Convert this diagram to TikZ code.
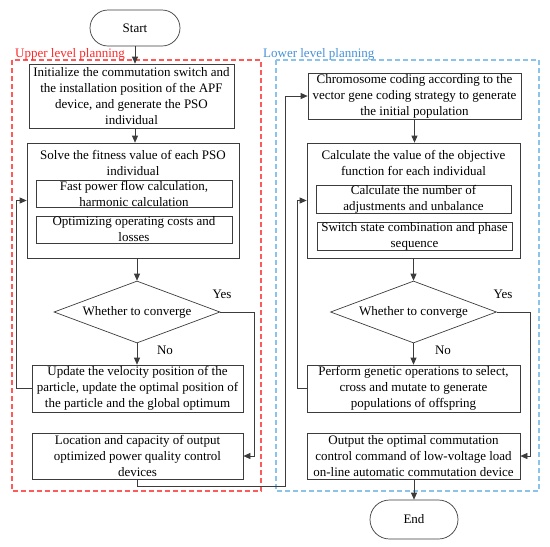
\documentclass[tikz,border=0pt]{standalone}
\usepackage{fontspec}
\setmainfont{Liberation Serif}
\usetikzlibrary{shapes.geometric,arrows.meta}
\definecolor{lc}{RGB}{60,60,60}
\definecolor{redd}{RGB}{255,90,90}
\definecolor{redt}{RGB}{255,40,40}
\definecolor{blued}{RGB}{140,195,235}
\definecolor{bluet}{RGB}{70,145,215}
\begin{document}
\begin{tikzpicture}[x=1pt,y=-1pt,
  every node/.style={font=\fontsize{13}{16}\selectfont, align=center, text=black},
  box/.style={draw=lc, line width=0.7pt, rectangle, inner xsep=2pt, inner ysep=0pt},
  term/.style={draw=lc, line width=0.7pt, rectangle, minimum width=88pt},
  dec/.style={draw=lc, line width=0.7pt, diamond, aspect=2.68, inner sep=0pt, minimum width=166pt, minimum height=62pt},
  arr/.style={draw=lc, line width=0.7pt, -{Triangle[length=7pt,width=6pt]}},
  ln/.style={draw=lc, line width=0.7pt},
  reddash/.style={draw=redd, line width=1.1pt, dash pattern=on 5pt off 3pt},
  bluedash/.style={draw=blued, line width=1.1pt, dash pattern=on 5pt off 3pt},
  lab/.style={anchor=base west, inner sep=0pt}
]
\useasboundingbox (0,0) rectangle (550,547);
% group frames
\draw[reddash] (12,60) rectangle (261,491);
\draw[bluedash] (276,60) rectangle (539,491);
\node[lab, text=redt] (ulab) at (15,57) {Upper level planning};
\node[lab, text=bluet] (llab) at (263,57) {Lower level planning};

% upper column
\node[term, rounded corners=18pt, minimum width=90pt, minimum height=36pt] (start) at (135,28) {Start};
\node[box, minimum width=205pt, minimum height=64pt] (b1) at (131.5,96) {Initialize the commutation switch and\\the installation position of the APF\\device, and generate the PSO\\individual};
\node[box, minimum width=212pt, minimum height=115pt] (b2) at (133,200.5) {};
\node[inner sep=0pt] (b2t) at (133,163) {Solve the fitness value of each PSO\\individual};
\node[box, minimum width=196pt, minimum height=27pt] (b2a) at (134,193.5) {Fast power flow calculation,\\harmonic calculation};
\node[box, minimum width=196pt, minimum height=27pt] (b2b) at (134,229.5) {Optimizing operating costs and\\losses};
\node[dec] (d1) at (137,312) {Whether to converge};
\node[box, minimum width=211pt, minimum height=47pt] (b3) at (137.5,388.5) {Update the velocity position of the\\particle, update the optimal position of\\the particle and the global optimum};
\node[box, minimum width=211pt, minimum height=46pt] (b4) at (137.5,456) {Location and capacity of output\\optimized power quality control\\devices};
\node (yes1) at (222,294) {Yes};
\node (no1) at (165,350) {No};

% lower column
\node[box, minimum width=213pt, minimum height=46pt] (l1) at (414.5,96) {Chromosome coding according to the\\vector gene coding strategy to generate\\the initial population};
\node[box, minimum width=213pt, minimum height=115pt] (l2) at (413.5,200.5) {};
\node[inner sep=0pt] (l2t) at (413.5,163) {Calculate the value of the objective\\function for each individual};
\node[box, minimum width=195pt, minimum height=27pt] (l2a) at (413.5,199.5) {Calculate the number of\\adjustments and unbalance};
\node[box, minimum width=195pt, minimum height=27pt] (l2b) at (414.5,236.5) {Switch state combination and phase\\sequence};
\node[dec] (d2) at (413.5,312) {Whether to converge};
\node[box, minimum width=213pt, minimum height=47pt] (l3) at (413.5,388.5) {Perform genetic operations to select,\\cross and mutate to generate\\populations of offspring};
\node[box, minimum width=213pt, minimum height=46pt] (l4) at (413.5,456) {Output the optimal commutation\\control command of low-voltage load\\on-line automatic commutation device};
\node[term, rounded corners=19.5pt, minimum height=39pt] (end) at (414,519.5) {End};
\node (yes2) at (503,294) {Yes};
\node (no2) at (443,350) {No};

% helper coordinates
\coordinate (y1) at (254,0);
\coordinate (f1) at (16,0);
\coordinate (br) at (0,486);
\coordinate (lx) at (285,0);
\coordinate (f2) at (297,0);
\coordinate (y2) at (530,0);

% connectors upper
\draw[arr] (start.south) -- (start.south |- b1.north);
\draw[arr] (b1.south -| start) -- (b2.north -| start);
\draw[arr] (b2.south -| d1) -- (d1.north);
\draw[arr] (d1.south) -- (b3.north -| d1);
\draw[arr] (d1.east) -| (y1 |- b4.east) -- (b4.east);
\draw[arr] (b3.west) -| (f1 |- b2.west) -- (b2.west);
\draw[arr] (b4.south) -- (b4.south |- br) -| (lx |- l1.west) -- (l1.west);

% connectors lower
\draw[arr] (l1.south) -- (l1.south |- l2.north);
\draw[arr] (l2.south -| d2) -- (d2.north);
\draw[arr] (d2.south) -- (l3.north -| d2);
\draw[arr] (d2.east) -| (y2 |- l4.east) -- (l4.east);
\draw[arr] (l3.west) -| (f2 |- l2.west) -- (l2.west);
\draw[arr] (l4.south -| end) -- (end.north);
\end{tikzpicture}
\end{document}
